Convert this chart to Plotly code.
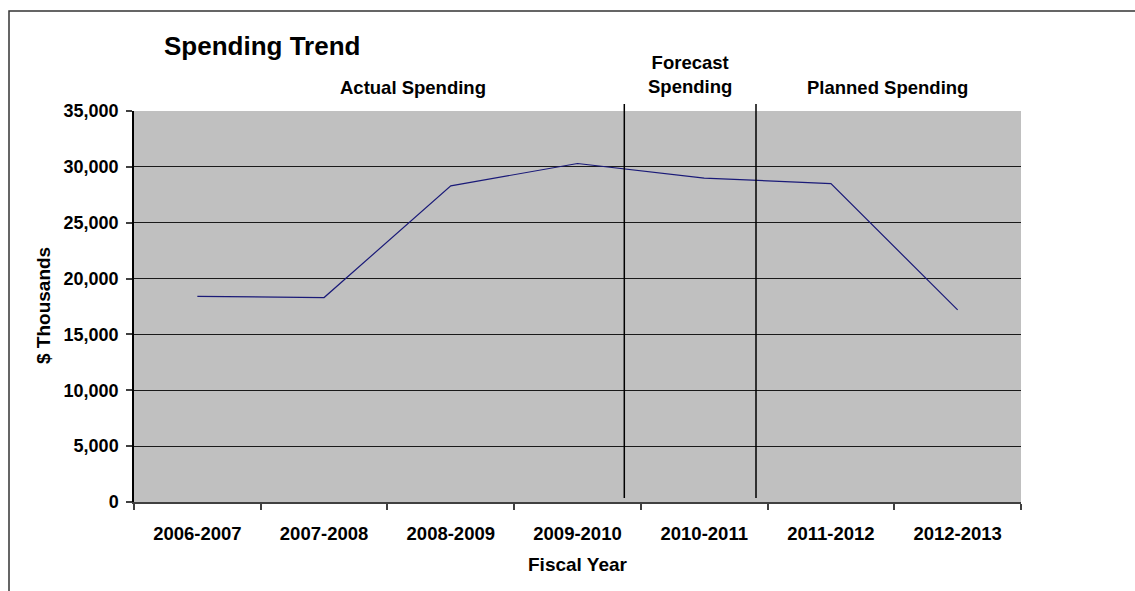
import plotly.graph_objects as go

# ---- data ----
fiscal_years = ["2006-2007", "2007-2008", "2008-2009", "2009-2010",
                "2010-2011", "2011-2012", "2012-2013"]
spending = [18400, 18300, 28300, 30300, 29000, 28500, 17200]
y_ticks = [0, 5000, 10000, 15000, 20000, 25000, 30000, 35000]
section_labels = ["Actual Spending", "Forecast<br>Spending", "Planned Spending"]

# ---- layout geometry (pixels) ----
W, H = 1135, 591
ML, MR, MT, MB = 134, 114, 111, 89
PW, PH = W - ML - MR, H - MT - MB

def px_x(px):
    return (px - ML) / PW

def px_y(py):
    return (H - MB - py) / PH

FONT = "Liberation Sans, Arial, sans-serif"

fig = go.Figure()
fig.add_trace(go.Scatter(
    x=fiscal_years, y=spending, mode="lines",
    line=dict(color="#1a1a78", width=1.2),
    showlegend=False, hoverinfo="x+y",
))

annotations = [
    dict(text="Spending Trend", x=px_x(162), y=px_y(46), xanchor="left", yanchor="middle",
         font=dict(size=26, family=FONT, color="black", weight="bold")),
    dict(text=section_labels[0], x=px_x(413), y=px_y(87), xanchor="center", yanchor="middle",
         font=dict(size=18.5, family=FONT, color="black", weight="bold")),
    dict(text=section_labels[1], x=px_x(690), y=px_y(74), xanchor="center", yanchor="middle",
         font=dict(size=18.5, family=FONT, color="black", weight="bold")),
    dict(text=section_labels[2], x=px_x(887), y=px_y(87), xanchor="center", yanchor="middle",
         font=dict(size=18.5, family=FONT, color="black", weight="bold")),
    dict(text="$ Thousands", x=px_x(43), y=px_y(306), xanchor="center", yanchor="middle",
         textangle=-90, font=dict(size=19, family=FONT, color="black", weight="bold")),
    dict(text="Fiscal Year", x=px_x(578), y=px_y(564.5), xanchor="center", yanchor="middle",
         font=dict(size=19, family=FONT, color="black", weight="bold")),
]
for a in annotations:
    a.update(xref="paper", yref="paper", showarrow=False)

shapes = [
    # chart border
    dict(type="rect", xref="paper", yref="paper",
         x0=px_x(9), y0=px_y(11), x1=px_x(W + 10), y1=px_y(H + 10),
         line=dict(color="#333333", width=1.5), layer="below"),
    # section dividers
    dict(type="line", xref="paper", yref="paper",
         x0=px_x(624.3), x1=px_x(624.3), y0=px_y(498), y1=px_y(104),
         line=dict(color="black", width=1.5)),
    dict(type="line", xref="paper", yref="paper",
         x0=px_x(756), x1=px_x(756), y0=px_y(498), y1=px_y(104),
         line=dict(color="black", width=1.5)),
]

fig.update_layout(
    width=W, height=H,
    margin=dict(l=ML, r=MR, t=MT, b=MB),
    paper_bgcolor="white", plot_bgcolor="#c0c0c0",
    font=dict(family=FONT, color="black"),
    annotations=annotations, shapes=shapes,
    showlegend=False,
)
fig.update_xaxes(
    type="category", categoryorder="array", categoryarray=fiscal_years,
    range=[-0.5, len(fiscal_years) - 0.5],
    showgrid=False, showline=True, linecolor="#404040", linewidth=1.5,
    ticks="outside", tickson="boundaries", ticklen=6, tickcolor="#404040", tickwidth=1.5,
    tickfont=dict(size=18.5, family=FONT, color="black", weight="bold"),
    ticklabelstandoff=14, zeroline=False,
)
fig.update_yaxes(
    range=[0, 35000], tickvals=y_ticks, tickformat=",d",
    showgrid=True, gridcolor="#1a1a1a", gridwidth=1,
    showline=True, linecolor="black", linewidth=1.5,
    ticks="outside", ticklen=6, tickcolor="#404040", tickwidth=1.5,
    tickfont=dict(size=18, family=FONT, color="black", weight="bold"),
    ticklabelstandoff=4, zeroline=False,
)

fig.write_html("out.html")
